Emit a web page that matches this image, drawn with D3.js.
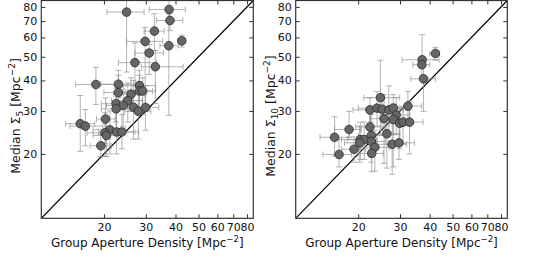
<!DOCTYPE html>
<html>
<head>
<meta charset="utf-8">
<script src="https://d3js.org/d3.v7.min.js"></script>
<style>
  body { margin: 0; background: #fff; }
  text { font-family: "DejaVu Sans", sans-serif; fill: #111; }
  .tick line { stroke: #333; }
</style>
</head>
<body>
<div id="chart"></div>
<script>
// shared axis settings
const tickValues = [20, 30, 40, 50, 60, 70, 80];
const domain = [10.9, 85];

// left panel: median Sigma_5
const s5X   = [24.9,37.6,37.9,32.6,29.8,37.5,42.5,31.0,27.0,32.9,18.5,23.0,23.0,28.2,28.2,29.1,26.0,25.2,22.5,24.1,22.5,26.6,29.9,27.9,15.9,16.7,20.3,21.2,20.2,20.5,22.6,23.8,19.4];
const s5Y   = [76.2,78.1,70.4,63.7,57.8,55.5,58.1,51.8,47.3,45.5,38.5,38.6,35.7,38.1,36.2,36.2,35.1,33.1,32.1,31.6,30.6,31.1,31.0,29.9,26.6,26.0,27.8,25.1,24.4,23.8,24.6,24.6,21.6];
const s5Xlo = [20.6,31.0,33.3,29.5,24.9,34.4,41.0,27.0,23.0,28.7,15.2,19.4,20.0,24.0,24.5,26.0,22.0,21.5,19.5,20.5,19.5,23.0,26.0,24.5,13.8,14.4,18.6,18.0,17.0,18.0,19.0,20.5,17.5];
const s5Xhi = [29.5,44.0,42.9,35.9,35.3,41.1,44.0,35.6,33.3,43.1,22.3,27.2,27.0,33.0,32.0,33.0,30.0,29.0,26.0,28.0,26.0,31.0,34.0,31.5,18.3,19.8,22.3,24.5,23.5,23.0,27.0,28.0,21.5];
const s5Ylo = [43.3,70.0,64.0,53.0,30.7,28.8,54.8,42.3,38.0,32.2,31.9,34.0,30.0,33.0,30.0,29.0,30.0,27.0,27.0,26.0,25.0,23.0,25.0,23.0,20.5,21.6,22.1,20.0,19.5,19.5,20.0,21.0,19.5];
const s5Yhi = [95,85,76,75,66,75,61.3,56.1,57,53,45.3,44,42,44,42,41,41,39,37,38,36,40,38,36,34.7,30.4,33.9,30,29.5,28,31,29,24];

// right panel: median Sigma_10
const s10X   = [42.3,37.2,37.1,37.7,24.8,22.4,24.0,25.2,26.9,28.1,32.4,28.9,25.7,28.1,29.9,30.9,32.9,22.4,18.3,26.4,15.9,22.7,20.4,21.2,20.3,22.7,27.8,29.7,23.5,19.2,22.8,16.6];
const s10Y   = [51.6,48.6,46.4,40.6,34.0,30.3,30.8,30.5,30.3,30.8,31.4,28.9,27.9,27.7,26.7,27.0,27.0,25.8,25.2,24.2,23.4,23.8,22.9,22.9,22.2,22.5,21.9,22.2,21.3,20.9,20.1,19.9];
const s10Xlo = [40,30.6,34,33.3,21.1,19,20,22,23,24,29,25.5,22.5,25,27,28,29,19.5,15.9,23,13.8,20,17,18,17.5,19.5,24,26.8,20,17,20,14.2];
const s10Xhi = [44,43.8,40,42.3,29.9,26.5,28,29,31,33,37,33,29.5,31.5,33,34,37.5,26,20.6,30,18.3,26,24,24,23.5,26,32,34.5,27,21.5,25.5,18.7];
const s10Ylo = [48.5,45,42,29.9,24,26,26,25,24.5,24,27,24,18.3,17.7,21,22,20,21,23.4,17.5,19.6,19.5,19,19,18.5,18.5,16.5,19,17,18.5,16.9,17.7];
const s10Yhi = [54.6,61.6,50,48.6,48.4,34,36,35,38,35,36,34,35,32,31,31,33,31,29.9,30,28.4,29,27,27,26,27,27,27,25,23.5,24,23];

const svg = d3.select("#chart").append("svg")
  .attr("width", 538)
  .attr("height", 271);

const plotTop = 0.5, plotBottom = 218.3;

const panels = [
  { id: "p5", left: 41.3, right: 253.3, sub: "5", labelX: 16,
    x: s5X, y: s5Y, xlo: s5Xlo, xhi: s5Xhi, ylo: s5Ylo, yhi: s5Yhi },
  { id: "p10", left: 295.7, right: 507.3, sub: "10", labelX: 270.5,
    x: s10X, y: s10Y, xlo: s10Xlo, xhi: s10Xhi, ylo: s10Ylo, yhi: s10Yhi }
];

panels.forEach(p => {
  const x = d3.scaleLog().domain(domain).range([p.left, p.right]);
  const y = d3.scaleLog().domain(domain).range([plotBottom, plotTop]);
  const data = p.x.map((v, i) => ({
    x: v, y: p.y[i], xlo: p.xlo[i], xhi: p.xhi[i], ylo: p.ylo[i], yhi: p.yhi[i]
  }));

  svg.append("clipPath").attr("id", "clip-" + p.id)
    .append("rect")
    .attr("x", p.left).attr("y", plotTop)
    .attr("width", p.right - p.left).attr("height", plotBottom - plotTop);

  const plot = svg.append("g").attr("clip-path", "url(#clip-" + p.id + ")");

  // one-to-one line
  plot.append("line")
    .attr("x1", x(domain[0])).attr("y1", y(domain[0]))
    .attr("x2", x(domain[1])).attr("y2", y(domain[1]))
    .attr("stroke", "#000").attr("stroke-width", 1.2);

  // error bars
  const eb = plot.append("g")
    .attr("stroke", "#8c8c8c")
    .attr("stroke-opacity", 0.65)
    .attr("stroke-width", 1)
    .attr("fill", "none");
  const cap = 3;
  data.forEach(d => {
    eb.append("line").attr("x1", x(d.xlo)).attr("x2", x(d.xhi))
      .attr("y1", y(d.y)).attr("y2", y(d.y));
    eb.append("line").attr("x1", x(d.x)).attr("x2", x(d.x))
      .attr("y1", y(d.ylo)).attr("y2", y(d.yhi));
    [d.xlo, d.xhi].forEach(v => eb.append("line")
      .attr("x1", x(v)).attr("x2", x(v))
      .attr("y1", y(d.y) - cap).attr("y2", y(d.y) + cap));
    [d.ylo, d.yhi].forEach(v => eb.append("line")
      .attr("x1", x(d.x) - cap).attr("x2", x(d.x) + cap)
      .attr("y1", y(v)).attr("y2", y(v)));
  });

  // points
  plot.append("g").selectAll("circle")
    .data(data)
    .enter().append("circle")
    .attr("cx", d => x(d.x))
    .attr("cy", d => y(d.y))
    .attr("r", 4.3)
    .attr("fill", "#666")
    .attr("stroke", "#2a2a2a")
    .attr("stroke-width", 0.8);

  // axes, ticks pointing inward on all four sides
  const fmt = d3.format("d");
  const gb = svg.append("g")
    .attr("transform", "translate(0," + plotBottom + ")")
    .call(d3.axisBottom(x).tickValues(tickValues).tickFormat(fmt).tickSize(-4).tickPadding(5));
  const gt = svg.append("g")
    .attr("transform", "translate(0," + plotTop + ")")
    .call(d3.axisTop(x).tickValues(tickValues).tickFormat("").tickSize(-4));
  const gl = svg.append("g")
    .attr("transform", "translate(" + p.left + ",0)")
    .call(d3.axisLeft(y).tickValues(tickValues).tickFormat(fmt).tickSize(-4).tickPadding(4));
  const gr = svg.append("g")
    .attr("transform", "translate(" + p.right + ",0)")
    .call(d3.axisRight(y).tickValues(tickValues).tickFormat("").tickSize(-4));
  [gb, gt, gl, gr].forEach(g => {
    g.select(".domain").remove();
    g.selectAll("text")
      .attr("fill", "#111")
      .style("font-family", "DejaVu Sans")
      .style("font-size", "11px");
  });

  // frame
  svg.append("rect")
    .attr("x", p.left).attr("y", plotTop)
    .attr("width", p.right - p.left).attr("height", plotBottom - plotTop)
    .attr("fill", "none").attr("stroke", "#333").attr("stroke-width", 1.2);

  // x label
  const xl = svg.append("text")
    .attr("x", (p.left + p.right) / 2)
    .attr("y", 247)
    .attr("text-anchor", "middle")
    .style("font-size", "12px");
  xl.append("tspan").text("Group Aperture Density [Mpc");
  xl.append("tspan").attr("dy", -5).style("font-size", "8.5px").text("\u22122");
  xl.append("tspan").attr("dy", 5).text("]");

  // y label
  const yl = svg.append("text")
    .attr("transform", "translate(" + p.labelX + "," + 116 + ") rotate(-90)")
    .attr("text-anchor", "middle")
    .attr("dy", "0.35em")
    .style("font-size", "12.5px");
  yl.append("tspan").text("Median \u03a3");
  yl.append("tspan").attr("dy", 3).style("font-size", "9px").text(p.sub);
  yl.append("tspan").attr("dy", -3).text(" [Mpc");
  yl.append("tspan").attr("dy", -5).style("font-size", "9px").text("\u22122");
  yl.append("tspan").attr("dy", 5).text("]");
});
</script>
</body>
</html>
